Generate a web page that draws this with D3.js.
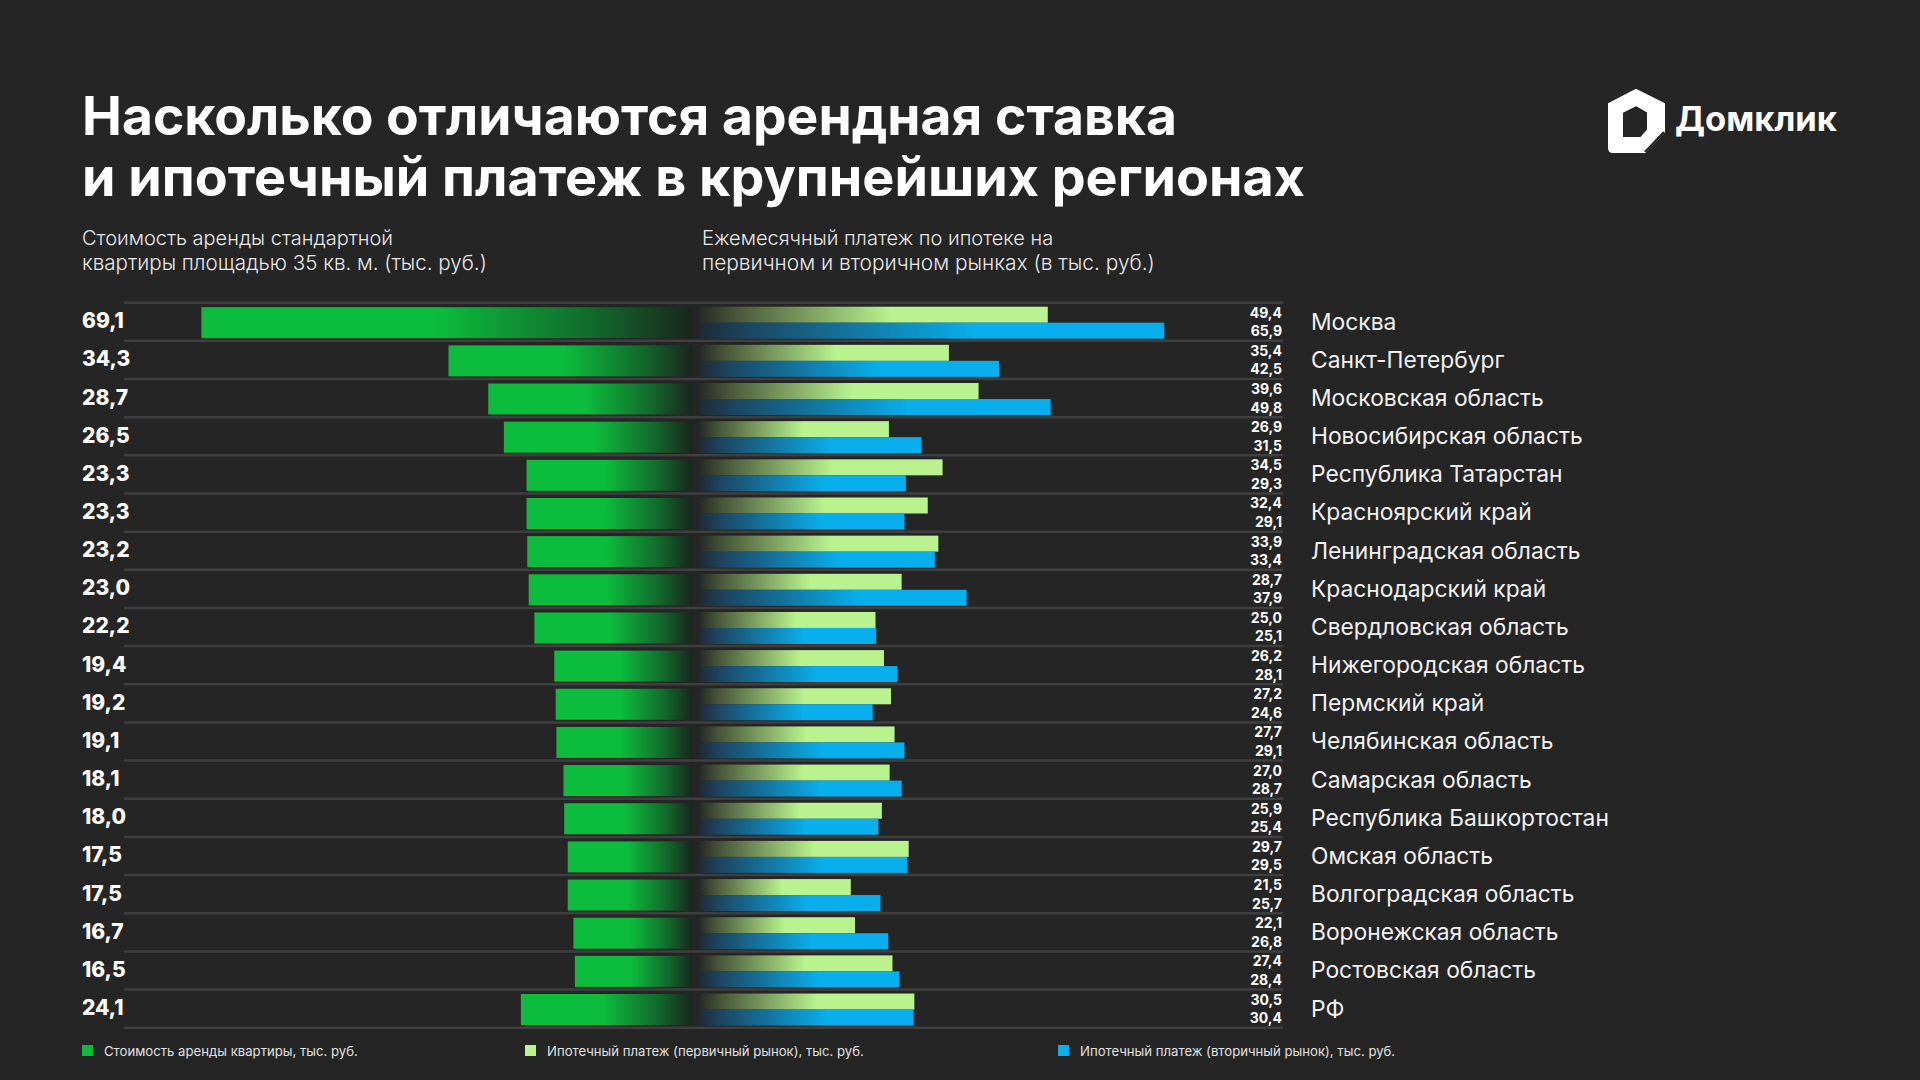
<!DOCTYPE html>
<html>
<head>
<meta charset="utf-8">
<script src="https://cdn.jsdelivr.net/npm/d3@7"></script>
<style>
    body { margin: 0; background: #252525; }
    svg { display: block; }
    text { font-family: Inter, "Noto Sans", sans-serif; }
</style>
</head>
<body>
<svg id="chart" width="1920" height="1080"></svg>
<script>
// Data
const regions = [
    'Москва', 'Санкт-Петербург', 'Московская область', 'Новосибирская область',
    'Республика Татарстан', 'Красноярский край', 'Ленинградская область',
    'Краснодарский край', 'Свердловская область', 'Нижегородская область',
    'Пермский край', 'Челябинская область', 'Самарская область',
    'Республика Башкортостан', 'Омская область', 'Волгоградская область',
    'Воронежская область', 'Ростовская область', 'РФ'
];
const rent = [69.1, 34.3, 28.7, 26.5, 23.3, 23.3, 23.2, 23.0, 22.2, 19.4, 19.2, 19.1, 18.1, 18.0, 17.5, 17.5, 16.7, 16.5, 24.1];
const primary = [49.4, 35.4, 39.6, 26.9, 34.5, 32.4, 33.9, 28.7, 25.0, 26.2, 27.2, 27.7, 27.0, 25.9, 29.7, 21.5, 22.1, 27.4, 30.5];
const secondary = [65.9, 42.5, 49.8, 31.5, 29.3, 29.1, 33.4, 37.9, 25.1, 28.1, 24.6, 29.1, 28.7, 25.4, 29.5, 25.7, 26.8, 28.4, 30.4];

const titleLines = ['Насколько отличаются арендная ставка', 'и ипотечный платеж в крупнейших регионах'];
const leftSubtitle = ['Стоимость аренды стандартной', 'квартиры площадью 35 кв. м. (тыс. руб.)'];
const rightSubtitle = ['Ежемесячный платеж по ипотеке на', 'первичном и вторичном рынках (в тыс. руб.)'];
const legendItems = [
    'Стоимость аренды квартиры, тыс. руб.',
    'Ипотечный платеж (первичный рынок), тыс. руб.',
    'Ипотечный платеж (вторичный рынок), тыс. руб.'
];

const GREEN = '#0cbc3c';
const LIGHT = '#b9f28f';
const BLUE = '#09afec';

const fmt = v => v.toFixed(1).replace('.', ',');

const svg = d3.select('#chart');
svg.append('rect').attr('width', 1920).attr('height', 1080).attr('fill', '#252525');

// scale font so text fits a target width
function fit(sel, w) {
    const len = sel.node().getComputedTextLength();
    const fs = parseFloat(sel.attr('font-size'));
    sel.attr('font-size', (fs * w / len).toFixed(2));
}

// Gradients
const defs = svg.append('defs');
function grad(id, stops) {
    const g = defs.append('linearGradient').attr('id', id)
        .attr('x1', 0).attr('x2', 1).attr('y1', 0).attr('y2', 0);
    stops.forEach(s => g.append('stop').attr('offset', s[0]).attr('stop-color', s[1]));
}
grad('g-rent', [[0, GREEN], [0.48, GREEN], [0.8, '#12692c'], [1, '#1a261d']]);
grad('g-prim', [[0, '#262925'], [0.1, '#475439'], [0.55, LIGHT], [1, LIGHT]]);
grad('g-sec', [[0, '#1f2a33'], [0.1, '#1c4560'], [0.6, BLUE], [1, BLUE]]);

// Title
const title = svg.append('g');
titleLines.forEach((t, i) => {
    const el = title.append('text')
        .attr('x', 82).attr('y', 135 + i * 61)
        .attr('font-size', 56).attr('font-weight', 700)
        .attr('fill', '#ffffff').text(t);
    fit(el, i === 0 ? 1095 : 1223);
});

// Subtitles
leftSubtitle.forEach((t, i) => {
    const el = svg.append('text').attr('x', 82).attr('y', 245 + i * 25)
        .attr('font-size', 20).attr('font-weight', 300).attr('fill', '#e8e8e8').text(t);
    if (i === 1) fit(el, 405);
});
rightSubtitle.forEach((t, i) => {
    const el = svg.append('text').attr('x', 702).attr('y', 245 + i * 25)
        .attr('font-size', 20).attr('font-weight', 300).attr('fill', '#e8e8e8').text(t);
    if (i === 1) fit(el, 453);
});

// Scales
const y = d3.scaleBand().domain(regions).range([302.7, 1027.7]).paddingInner(0).paddingOuter(0);
const xLeft = d3.scaleLinear().domain([0, 70]).range([692, 692 - 70 * 7.1]);
const xRight = d3.scaleLinear().domain([0, 70]).range([699, 699 + 70 * 7.06]);

// Gridlines
const gridYs = regions.map(r => y(r)).concat([y(regions[regions.length - 1]) + y.bandwidth()]);
svg.append('g').selectAll('line').data(gridYs).enter().append('line')
    .attr('x1', 124).attr('x2', 1283)
    .attr('y1', d => d).attr('y2', d => d)
    .attr('stroke', '#3f3f3f').attr('stroke-width', 2.5);

const rows = svg.append('g').selectAll('g').data(regions).enter().append('g');

// Rent bars (left)
rows.append('rect')
    .attr('x', (d, i) => xLeft(rent[i]))
    .attr('y', d => y(d) + 4.5)
    .attr('width', (d, i) => xLeft(0) - xLeft(rent[i]))
    .attr('height', 31)
    .attr('fill', 'url(#g-rent)');

// Primary market bars
rows.append('rect')
    .attr('x', xRight(0))
    .attr('y', d => y(d) + 4)
    .attr('width', (d, i) => xRight(primary[i]) - xRight(0))
    .attr('height', 16)
    .attr('fill', 'url(#g-prim)');

// Secondary market bars
rows.append('rect')
    .attr('x', xRight(0))
    .attr('y', d => y(d) + 20)
    .attr('width', (d, i) => xRight(secondary[i]) - xRight(0))
    .attr('height', 16)
    .attr('fill', 'url(#g-sec)');

// Rent values
rows.append('text')
    .attr('x', 82).attr('y', d => y(d) + 25.5)
    .attr('font-size', 21).attr('font-weight', 800).attr('fill', '#ffffff')
    .text((d, i) => fmt(rent[i]));

// Mortgage values
rows.append('text')
    .attr('x', 1282).attr('y', d => y(d) + 15)
    .attr('text-anchor', 'end')
    .attr('font-size', 14).attr('font-weight', 700).attr('fill', '#ffffff')
    .text((d, i) => fmt(primary[i]));
rows.append('text')
    .attr('x', 1282).attr('y', d => y(d) + 33.5)
    .attr('text-anchor', 'end')
    .attr('font-size', 14).attr('font-weight', 700).attr('fill', '#ffffff')
    .text((d, i) => fmt(secondary[i]));

// Region names
const names = rows.append('text')
    .attr('x', 1311).attr('y', d => y(d) + 27)
    .attr('font-size', 22).attr('font-weight', 400).attr('fill', '#f2f2f2')
    .text(d => d);
const refName = names.filter(d => d === 'Республика Башкортостан');
fit(refName, 298);
names.attr('font-size', refName.attr('font-size'));

// Legend
const legendX = [82, 525, 1058];
const legendColors = [GREEN, LIGHT, BLUE];
const legend = svg.append('g').selectAll('g').data(legendItems).enter().append('g')
    .attr('transform', (d, i) => `translate(${legendX[i]},1045)`);
legend.append('rect').attr('width', 11).attr('height', 11)
    .attr('fill', (d, i) => legendColors[i]);
const legText = legend.append('text').attr('x', 22).attr('y', 10.5)
    .attr('font-size', 13).attr('font-weight', 400).attr('fill', '#e0e0e0')
    .text(d => d);
fit(legText.filter((d, i) => i === 0), 254);
legText.attr('font-size', legText.filter((d, i) => i === 0).attr('font-size'));

// Logo
const logo = svg.append('g').attr('transform', 'translate(1609,90)');
logo.append('path')
    .attr('d', 'M27,0 L55,14 L55,42 L36,62 L4,62 Q0,62 0,58 L0,14 Z M13,22 L13,48 L32,48 L39,40 L39,22 L27,15 Z')
    .attr('fill', '#ffffff').attr('fill-rule', 'evenodd')
    .attr('stroke', '#ffffff').attr('stroke-width', 2).attr('stroke-linejoin', 'round');
logo.append('path')
    .attr('d', 'M55,42 L36,62')
    .attr('stroke', '#252525').attr('stroke-width', 2.5);
logo.append('path')
    .attr('d', 'M53,42 L37,59 L40,45 Z')
    .attr('fill', '#ffffff');
const logoText = svg.append('text')
    .attr('x', 1675).attr('y', 131)
    .attr('font-size', 33).attr('font-weight', 700).attr('fill', '#ffffff')
    .text('Домклик');
fit(logoText, 162);
</script>
</body>
</html>
